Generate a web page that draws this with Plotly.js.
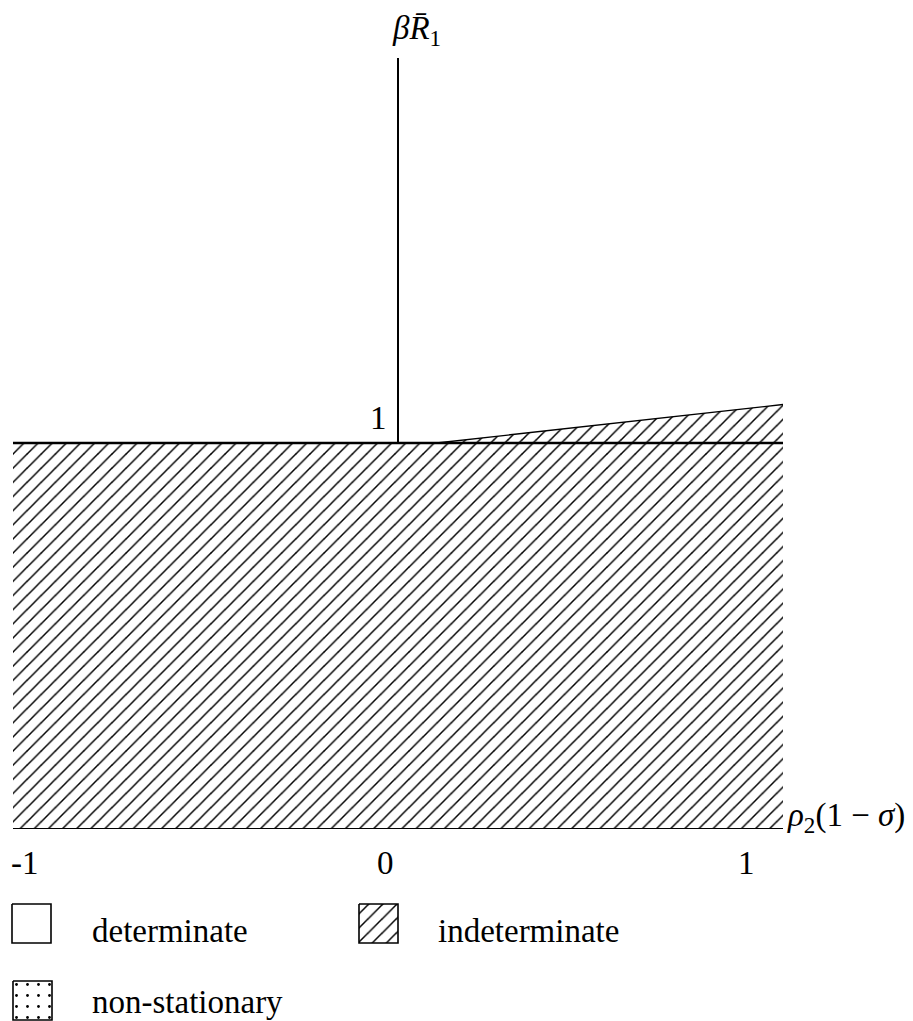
<!DOCTYPE html>
<html>
<head>
<meta charset="utf-8">
<script src="https://cdn.plot.ly/plotly-3.0.1.min.js"></script>
<style>html,body{margin:0;padding:0;background:#fff;}</style>
</head>
<body>
<div id="chart" style="width:913px;height:1021px;"></div>
<script>
// ---- data ----
const regionX = [-1, 1, 1, 0.1, -1];        // indeterminate region outline (x)
const regionY = [0, 0, 1.1, 1, 1];           // indeterminate region outline (y)
const boundaryX = [-1, 1];                   // horizontal boundary at 1
const boundaryY = [1, 1];
const wedgeX = [0.1, 1];                     // upper edge of the wedge
const wedgeY = [1, 1.1];
const xTickVals = [-1, 0, 1];
const xTickText = ['-1', '0', '1'];
const yTickVals = [1];
const yTickText = ['1'];
const xTitle = '<i>ρ</i><sub>2</sub>(1 − <i>σ</i>)';
const yTitle = '<i>β</i><i>R̄</i><sub>1</sub>';
const legendLabels = ['determinate', 'indeterminate', 'non-stationary'];
const legendShapes = ['', '/', '.'];

// ---- layout helpers ----
const W = 913, H = 1021;
const FONT = '"Liberation Serif", "DejaVu Serif", serif';
const FS = 33;
const x0px = 13, x1px = 783, y0px = 828, y2px = 58;

const traces = [];
traces.push({
  x: regionX, y: regionY, xaxis: 'x', yaxis: 'y',
  type: 'scatter', mode: 'lines', fill: 'toself',
  line: {width: 0, color: 'rgba(0,0,0,0)'},
  fillcolor: 'white',
  fillpattern: {shape: '/', size: 10, solidity: 0.15, fgcolor: 'black', bgcolor: 'white'},
  hoverinfo: 'skip', showlegend: false
});
traces.push({
  x: boundaryX, y: boundaryY, type: 'scatter', mode: 'lines',
  line: {color: 'black', width: 2.4}, hoverinfo: 'skip', showlegend: false
});
traces.push({
  x: wedgeX, y: wedgeY, type: 'scatter', mode: 'lines',
  line: {color: 'black', width: 1.4}, hoverinfo: 'skip', showlegend: false
});

// legend swatches in a pixel-coordinate overlay (x2/y2)
const legCols = [12, 359, 13];
const legRows = [904, 904, 981];
const legTextX = [90, 436, 90];
const legTextY = [931, 931, 1002];
const box = 39;
const annotations = [];
legendLabels.forEach((lab, i) => {
  const lx = legCols[i], ly = legRows[i];
  const t = {
    x: [lx, lx + box, lx + box, lx, lx], y: [ly, ly, ly + box, ly + box, ly],
    xaxis: 'x2', yaxis: 'y2', type: 'scatter', mode: 'lines', fill: 'toself',
    line: {color: 'black', width: 1.6}, fillcolor: 'white',
    hoverinfo: 'skip', showlegend: false
  };
  if (legendShapes[i] === '/') {
    t.fillpattern = {shape: '/', size: 10, solidity: 0.15, fgcolor: 'black', bgcolor: 'white'};
  } else if (legendShapes[i] === '.') {
    t.fillpattern = {shape: '.', size: 11, solidity: 0.05, fgcolor: 'black', bgcolor: 'white'};
  }
  traces.push(t);
  annotations.push({
    xref: 'x2', yref: 'y2', x: legTextX[i], y: legTextY[i],
    text: lab, showarrow: false, xanchor: 'left', yanchor: 'middle',
    font: {family: FONT, size: FS, color: 'black'}
  });
});

// tick labels
const xShifts = [12, -13, -37];
xTickVals.forEach((v, i) => {
  annotations.push({
    xref: 'x', yref: 'y', x: v, y: 0, text: xTickText[i], showarrow: false,
    xanchor: 'center', yanchor: 'middle', xshift: xShifts[i], yshift: -35,
    font: {family: FONT, size: FS, color: 'black'}
  });
});
yTickVals.forEach((v, i) => {
  annotations.push({
    xref: 'x', yref: 'y', x: 0, y: v, text: yTickText[i], showarrow: false,
    xanchor: 'center', yanchor: 'middle', xshift: -20, yshift: 25,
    font: {family: FONT, size: FS, color: 'black'}
  });
});
// axis titles
annotations.push({
  xref: 'x', yref: 'y', x: 1, y: 0, text: xTitle, showarrow: false,
  xanchor: 'left', yanchor: 'middle', xshift: 2, yshift: 11,
  font: {family: FONT, size: FS, color: 'black'}
});
annotations.push({
  xref: 'x', yref: 'y', x: 0, y: 2, text: yTitle, showarrow: false,
  xanchor: 'center', yanchor: 'middle', xshift: 18, yshift: 27,
  font: {family: FONT, size: FS, color: 'black'}
});

const hidden = {showgrid: false, showticklabels: false, ticks: '', showline: false};
const layout = {
  width: W, height: H,
  margin: {l: 0, r: 0, t: 0, b: 0, pad: 0},
  paper_bgcolor: 'white', plot_bgcolor: 'rgba(0,0,0,0)',
  showlegend: false,
  font: {family: FONT, size: FS, color: 'black'},
  xaxis: Object.assign({}, hidden, {
    domain: [x0px / W, x1px / W], range: [-1, 1],
    zeroline: true, zerolinecolor: 'black', zerolinewidth: 2.4, fixedrange: true
  }),
  yaxis: Object.assign({}, hidden, {
    domain: [(H - y0px) / H, (H - y2px) / H], range: [0, 2],
    zeroline: true, zerolinecolor: 'black', zerolinewidth: 2.4, fixedrange: true
  }),
  xaxis2: Object.assign({}, hidden, {domain: [0, 1], range: [0, W], zeroline: false, anchor: 'y2'}),
  yaxis2: Object.assign({}, hidden, {domain: [0, 1], range: [H, 0], zeroline: false, anchor: 'x2'}),
  annotations: annotations
};

Plotly.newPlot('chart', traces, layout, {staticPlot: true, displayModeBar: false});
</script>
</body>
</html>
